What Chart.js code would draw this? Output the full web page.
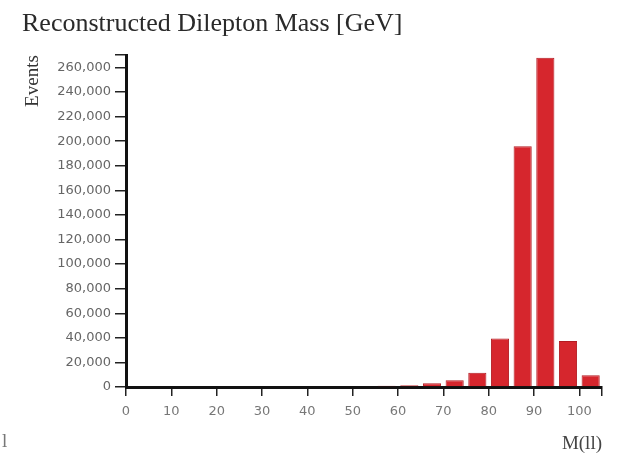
<!DOCTYPE html>
<html lang="en">
<head>
  <meta charset="UTF-8" />
  <title>Reconstructed Dilepton Mass</title>
  <script src="https://cdn.jsdelivr.net/npm/chart.js"></script>
  <style>
    html, body { margin: 0; padding: 0; background: #fff; }
    .wrap { width: 625px; height: 461px; }
  </style>
</head>
<body>
  <div class="wrap"><canvas id="chartCanvas"></canvas></div>

  <script>
    // 5 GeV bins, values are bin centres
    const binCenters = [57.5, 62.5, 67.5, 72.5, 77.5, 82.5, 87.5, 92.5, 97.5, 102.5];
    const events = [1000, 1500, 3000, 5500, 11500, 39500, 196000, 268000, 37500, 9500];

    const xTicks = [0, 10, 20, 30, 40, 50, 60, 70, 80, 90, 100];
    const yTicks = [0, 20000, 40000, 60000, 80000, 100000, 120000, 140000,
                    160000, 180000, 200000, 220000, 240000, 260000];
    const xMax = 105;
    const yMax = 270000;

    const tickFont = { family: "'DejaVu Sans', sans-serif", size: 13 };
    const serif = "'Liberation Serif', 'Times New Roman', serif";

    // the stray glyph at the bottom left of the original
    const strayText = {
      id: 'strayText',
      afterDraw(c) {
        const ctx = c.ctx;
        ctx.save();
        ctx.fillStyle = '#777';
        ctx.font = '19px ' + serif;
        ctx.textBaseline = 'alphabetic';
        ctx.fillText('l', 2, 447);
        ctx.restore();
      }
    };

    const ctx = document.getElementById('chartCanvas').getContext('2d');
    const chart = new Chart(ctx, {
      type: 'bar',
      data: {
        datasets: [{
          label: 'Events',
          data: binCenters.map((x, i) => ({ x: x, y: events[i] })),
          backgroundColor: '#d6262d',
          borderColor: '#b31b22',
          borderWidth: 1,
          barPercentage: 0.8,
          categoryPercentage: 1
        }]
      },
      options: {
        responsive: true,
        maintainAspectRatio: false,
        animation: false,
        layout: { padding: { left: 22, right: 23, top: 0, bottom: 6 } },
        plugins: {
          legend: { display: false },
          tooltip: { enabled: false },
          title: {
            display: true,
            text: 'Reconstructed Dilepton Mass [GeV]',
            align: 'start',
            color: '#2a2a2a',
            font: { family: serif, size: 26, weight: 'normal' },
            padding: { top: 9, bottom: 15 }
          }
        },
        scales: {
          x: {
            type: 'linear',
            min: 0,
            max: xMax,
            offset: false,
            afterBuildTicks: s => { s.ticks = xTicks.concat([xMax]).map(v => ({ value: v })); },
            afterFit: s => { s.height = 68; },
            ticks: {
              color: '#777',
              font: tickFont,
              padding: 8,
              maxRotation: 0,
              autoSkip: false,
              callback: v => (v > 100 ? '' : v)
            },
            grid: { offset: false, drawOnChartArea: false, drawTicks: true, tickLength: 9, color: '#222', lineWidth: 1.5 },
            border: { display: true, color: '#111', width: 3 },
            title: {
              display: true,
              text: 'M(ll)',
              align: 'end',
              color: '#444',
              font: { family: serif, size: 19 },
              padding: { top: 0, bottom: 0 }
            }
          },
          y: {
            min: 0,
            max: yMax,
            afterBuildTicks: s => { s.ticks = yTicks.concat([yMax]).map(v => ({ value: v })); },
            afterFit: s => { s.width = 104; },
            ticks: {
              color: '#666',
              font: tickFont,
              padding: 4,
              autoSkip: false,
              callback: v => (v > 260000 ? '' : v.toLocaleString('en-US'))
            },
            grid: { drawOnChartArea: false, drawTicks: true, tickLength: 11, color: '#222', lineWidth: 1.5 },
            border: { display: true, color: '#111', width: 3 },
            title: {
              display: true,
              text: 'Events',
              align: 'end',
              color: '#333',
              font: { family: serif, size: 19 },
              padding: { top: 0, bottom: 0 }
            }
          }
        }
      },
      plugins: [strayText]
    });
  </script>
</body>
</html>
